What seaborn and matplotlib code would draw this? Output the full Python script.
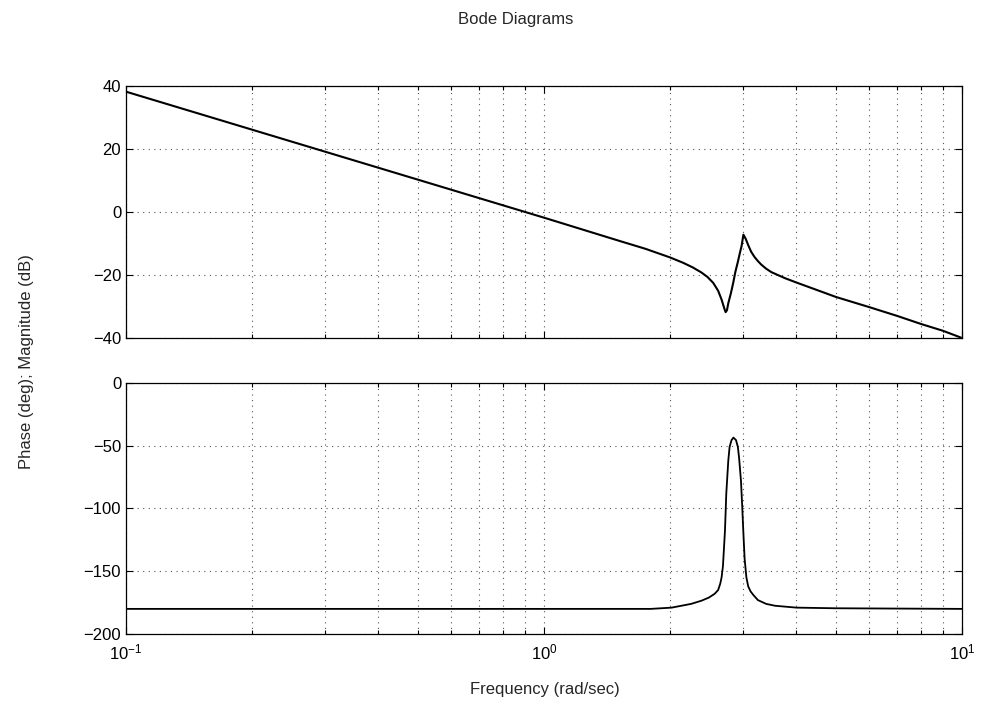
import matplotlib
matplotlib.use("Agg")
import matplotlib.pyplot as plt
import numpy as np
import pandas as pd
import seaborn as sns
from matplotlib.ticker import LogLocator, NullFormatter

# magnitude curve (rad/sec, dB)
mag_freq = [0.1, 1.0, 1.5, 1.75, 2.0, 2.15, 2.27, 2.38, 2.46, 2.54, 2.61,
            2.66, 2.70, 2.72, 2.74, 2.76, 2.80, 2.835, 2.87, 2.91, 2.94, 2.97,
            3.00, 3.04, 3.08, 3.13, 3.19, 3.25, 3.31, 3.40, 3.50, 3.77, 4.0,
            5.0, 6.0, 7.0, 8.0, 9.0, 10.0]
mag_db = [38.2, -1.8, -9.0, -11.7, -14.4, -16.1, -17.6, -19.2, -20.6, -22.5,
          -25.0, -27.8, -30.6, -31.8, -31.2, -29.0, -25.8, -22.6, -19.0, -15.8,
          -13.2, -10.8, -7.2, -8.6, -10.5, -12.6, -14.3, -15.6, -16.7, -18.0,
          -19.1, -21.0, -22.3, -27.0, -30.2, -33.0, -35.6, -37.7, -40.0]

# phase curve (rad/sec, deg)
phase_freq = [0.1, 1.8, 2.02, 2.25, 2.38, 2.48, 2.56, 2.61, 2.64, 2.66, 2.68,
              2.71, 2.73, 2.76, 2.78, 2.81, 2.84, 2.88, 2.91, 2.93, 2.96, 2.98,
              3.00, 3.02, 3.05, 3.08, 3.12, 3.17, 3.25, 3.40, 3.57, 4.02, 4.97,
              10.0]
phase_deg = [-180, -180, -179, -176, -173.5, -171, -168, -165, -160, -155,
             -146, -118, -88, -62, -51, -45.5, -43.5, -45.5, -51, -60, -78,
             -98, -120, -140, -155, -162, -166, -169, -173, -176, -177.5,
             -179, -179.5, -180]

mag_ticks = [-40, -20, 0, 20, 40]
phase_ticks = [-200, -150, -100, -50, 0]

sns.set_style("ticks")
plt.rcParams["font.family"] = ["Liberation Sans", "DejaVu Sans"]
plt.rcParams["mathtext.fontset"] = "custom"
plt.rcParams["mathtext.rm"] = "Liberation Sans"
plt.rcParams["mathtext.it"] = "Liberation Sans"

fig = plt.figure(figsize=(9.82, 7.09), dpi=100)
fig.patch.set_facecolor("white")
ax_mag = fig.add_axes([0.1283, 0.5233, 0.8513, 0.3554])
ax_ph = fig.add_axes([0.1283, 0.1058, 0.8513, 0.3540])

mag = pd.DataFrame({"freq": mag_freq, "db": mag_db})
phase = pd.DataFrame({"freq": phase_freq, "deg": phase_deg})

sns.lineplot(data=mag, x="freq", y="db", ax=ax_mag, color="black",
             linewidth=1.5, estimator=None, sort=False)
sns.lineplot(data=phase, x="freq", y="deg", ax=ax_ph, color="black",
             linewidth=1.3, estimator=None, sort=False)

for ax, ticks in [(ax_mag, mag_ticks), (ax_ph, phase_ticks)]:
    ax.set_xscale("log")
    ax.set_xlim(0.1, 10)
    ax.set_ylim(ticks[0], ticks[-1])
    ax.set_yticks(ticks)
    ax.set_yticklabels([f"{t}".replace("-", "\u2212") for t in ticks])
    ax.xaxis.set_major_locator(LogLocator(base=10, numticks=10))
    ax.xaxis.set_minor_locator(LogLocator(base=10, subs=np.arange(2, 10), numticks=10))
    ax.xaxis.set_minor_formatter(NullFormatter())
    ax.grid(True, which="both", axis="x", color="#555555", linestyle=(0, (1, 4)),
            linewidth=0.8)
    ax.grid(True, which="major", axis="y", color="#555555", linestyle=(0, (1, 4)),
            linewidth=0.8)
    ax.tick_params(which="both", direction="in", top=True, right=True,
                   labelsize=12, colors="black", width=0.8)
    ax.tick_params(which="major", length=5)
    ax.tick_params(which="minor", length=3)
    for spine in ax.spines.values():
        spine.set_visible(True)
        spine.set_color("black")
        spine.set_linewidth(0.9)
    ax.set_xlabel("")
    ax.set_ylabel("")
    ax.set_facecolor("white")

ax_mag.tick_params(labelbottom=False)
ax_ph.tick_params(axis="x", pad=6)

fig.text(0.525, 0.973, "Bode Diagrams", ha="center", va="center", fontsize=12)
fig.text(0.555, 0.027, "Frequency (rad/sec)", ha="center", va="center", fontsize=12)
fig.text(0.027, 0.49, "Phase (deg); Magnitude (dB)", ha="center", va="center",
         rotation=90, fontsize=12)

fig.savefig("out.png", dpi=100, facecolor="white")
